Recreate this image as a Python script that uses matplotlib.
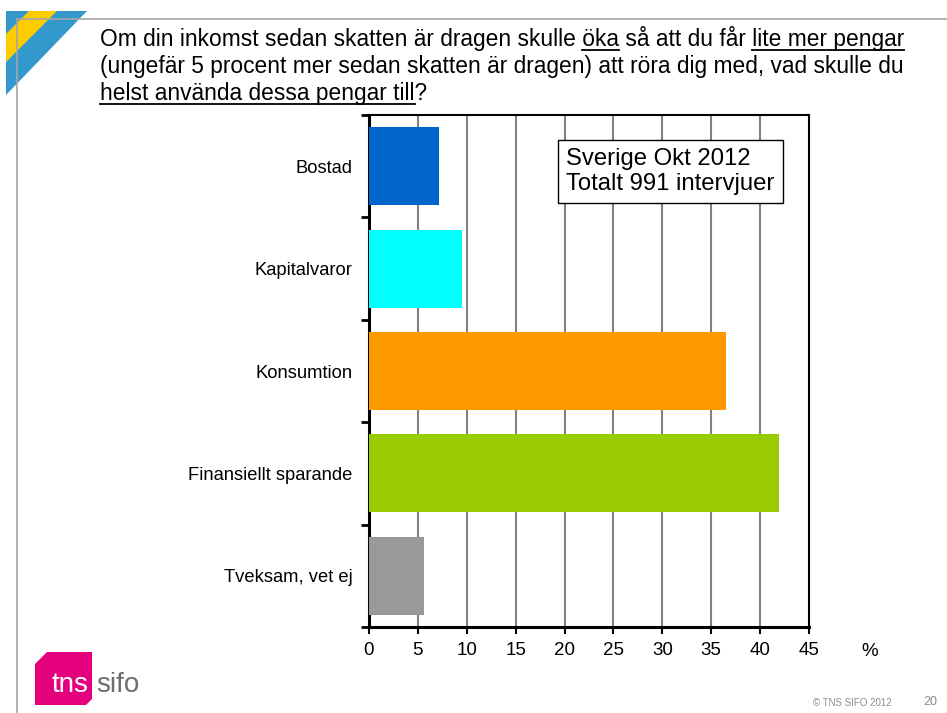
import matplotlib
matplotlib.use("Agg")
import matplotlib.pyplot as plt
import matplotlib.transforms as mtransforms
from matplotlib.patches import Polygon
import numpy as np

plt.rcParams['font.family'] = ['Liberation Sans', 'DejaVu Sans']

categories = ["Bostad", "Kapitalvaror", "Konsumtion", "Finansiellt sparande", "Tveksam, vet ej"]
values = [7.2, 9.5, 36.5, 41.9, 5.6]
colors = ["#0066CC", "#00FFFF", "#FF9900", "#99CC00", "#999999"]
xticks = [0, 5, 10, 15, 20, 25, 30, 35, 40, 45]

W, H = 947, 713
fig = plt.figure(figsize=(W / 100, H / 100), dpi=100)
px = mtransforms.Affine2D().scale(1 / W, -1 / H).translate(0, 1) + fig.transFigure

# frame decoration lines
fig.add_artist(plt.Line2D([17, W], [19, 19], transform=px, color="#A6A6A6", lw=1.2))
fig.add_artist(plt.Line2D([17, 17], [19, H], transform=px, color="#A6A6A6", lw=1.2))
# corner triangle
fig.add_artist(Polygon([(6, 11), (87, 11), (6, 95)], closed=True, transform=px,
                       facecolor="#3399CC", edgecolor="none"))
fig.add_artist(Polygon([(29, 11), (57, 11), (6, 62), (6, 34)], closed=True, transform=px,
                       facecolor="#FFCC00", edgecolor="none"))

# axes
ax = fig.add_axes([369 / W, 1 - 627 / H, 440 / W, 512 / H])
y = np.arange(len(categories))
ax.barh(y, values, height=0.76, color=colors, zorder=3)
ax.set_xlim(0, 45)
ax.set_ylim(len(categories) - 0.5, -0.5)
ax.set_xticks(xticks)
ax.set_xticklabels([str(t) for t in xticks], fontsize=13.5)
ax.set_yticks(np.arange(len(categories) + 1) - 0.5)
ax.set_yticklabels([])
ax.set_yticks(y, minor=True)
ax.set_yticklabels(categories, minor=True, fontsize=13.2)
ax.tick_params(axis="y", which="minor", length=0, pad=12)
ax.tick_params(axis="y", which="major", direction="out", length=6, width=2)
ax.tick_params(axis="x", direction="out", length=5, width=1.5, pad=6)
for t in xticks[1:-1]:
    ax.axvline(t, color="#808080", lw=1.5, zorder=1)
for s in ax.spines.values():
    s.set_color("black")
    s.set_linewidth(1.5)
ax.spines["left"].set_linewidth(2.2)
ax.spines["bottom"].set_linewidth(2.2)

fig.text(870 / W, 1 - 651 / H, "%", fontsize=13.5, ha="center", va="center")

fig.text(566 / W, 1 - 171.5 / H, "Sverige Okt 2012\nTotalt 991 intervjuer", fontsize=17.2,
         ha="left", va="center", linespacing=1.15,
         bbox=dict(boxstyle="square,pad=0.35", facecolor="white", edgecolor="black", lw=1))

# title with underlined parts
renderer = fig.canvas.get_renderer()
lines = [
    [("Om din inkomst sedan skatten är dragen skulle ", False), ("öka", True),
     (" så att du får ", False), ("lite mer pengar", True)],
    [("(ungefär 5 procent mer sedan skatten är dragen) att röra dig med, vad skulle du", False)],
    [("helst använda dessa pengar till", True), ("?", False)],
]
fs = 16.4
x0 = 100
baselines = [46, 73, 100]
for segs, yb in zip(lines, baselines):
    full = "".join(s for s, _ in segs)
    fig.text(x0 / W, 1 - yb / H, full, fontsize=fs, ha="left", va="baseline")
    prefix = ""
    for seg, ul in segs:
        prefix += seg
        if ul:
            t1 = fig.text(0, 0, prefix, fontsize=fs)
            t2 = fig.text(0, 0, seg, fontsize=fs)
            w1 = t1.get_window_extent(renderer).width
            w2 = t2.get_window_extent(renderer).width
            t1.remove(); t2.remove()
            xe = x0 + w1
            xs = xe - w2
            fig.add_artist(plt.Line2D([xs, xe], [yb + 4, yb + 4], transform=px,
                                      color="black", lw=1.3))

# logo
fig.add_artist(Polygon([(47, 652), (92, 652), (92, 699), (86, 705), (35, 705), (35, 664)],
                       closed=True, transform=px, facecolor="#E5007E", edgecolor="none"))
fig.text(52 / W, 1 - 692 / H, "tns", fontsize=20, color="white", ha="left",
         va="baseline")
fig.text(96 / W, 1 - 692 / H, "sifo", fontsize=20, color="#6E6E6E", ha="left",
         va="baseline")

fig.text(852 / W, 1 - 703 / H, "© TNS SIFO 2012", fontsize=7, color="#8C8C8C",
         ha="center", va="center")
fig.text(930 / W, 1 - 702 / H, "20", fontsize=9, color="#8C8C8C", ha="center", va="center")

fig.savefig("out.png", dpi=100)
